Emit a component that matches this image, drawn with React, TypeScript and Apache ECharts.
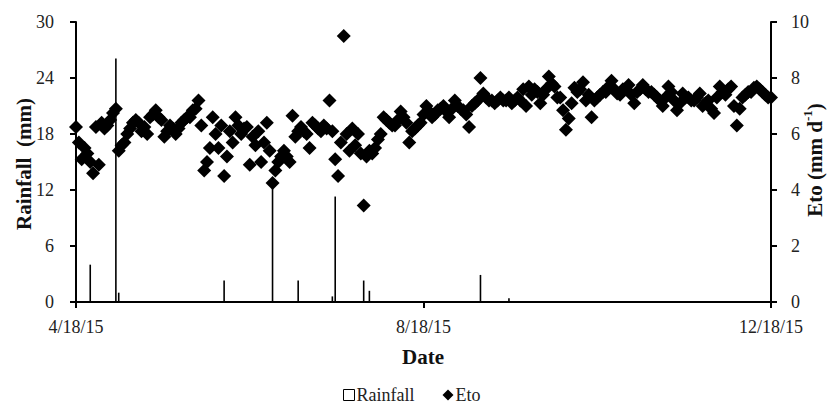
import React, { useEffect, useRef } from "react";
import * as echarts from "echarts";

// Daily series starting 4/18/2015 (index = days after 4/18/15)
const START = Date.UTC(2015, 3, 18);
const xTickDays = [0, 122, 244];

const rainDays = [5, 14, 15, 52, 69, 78, 90, 91, 101, 103, 142, 152];
const rainValues = [4.0, 26.1, 1.0, 2.3, 12.6, 2.3, 0.6, 11.3, 2.3, 1.2, 2.9, 0.4];

const etoValues = [
  6.25, 5.7, 5.1, 5.5, 5.3, 5.0, 4.6, 6.25, 4.9, 6.4,
  6.2, 6.3, 6.5, 6.75, 6.9, 5.4, 5.6, 5.7, 6.0, 6.2,
  6.4, 6.5, 6.4, 6.1, 6.25, 6.0, 6.6, 6.7, 6.85, 6.6,
  6.5, 5.9, 6.1, 6.3, 6.2, 6.0, 6.2, 6.4, 6.5, 6.6,
  6.6, 6.85, 6.9, 7.2, 6.3, 4.7, 5.0, 5.5, 6.6, 6.0,
  5.5, 6.3, 4.5, 5.2, 6.1, 5.7, 6.6, 6.3, 6.0, 6.2,
  6.25, 4.9, 5.9, 5.6, 6.1, 5.0, 5.7, 6.4, 5.4, 4.25,
  4.7, 5.0, 5.2, 5.4, 5.2, 5.0, 6.65, 5.9, 6.1, 6.25,
  6.1, 6.0, 5.5, 6.4, 6.3, 6.2, 6.1, 6.3, 6.2, 7.2,
  6.1, 5.1, 4.5, 5.7, 9.5, 6.0, 5.4, 6.2, 5.6, 6.0,
  5.3, 3.45, 5.2, 5.4, 5.3, 5.5, 5.8, 6.0, 6.6, 6.5,
  6.4, 6.3, 6.3, 6.5, 6.8, 6.6, 6.4, 5.7, 6.1, 6.2,
  6.3, 6.4, 6.7, 7.0, 6.8, 6.6, 6.7, 6.85, 6.9, 7.0,
  6.8, 6.6, 6.9, 7.2, 7.0, 6.9, 6.85, 6.7, 6.25, 7.0,
  7.1, 7.2, 8.0, 7.45, 7.3, 7.2, 7.2, 7.1, 7.2, 7.3,
  7.2, 7.2, 7.3, 7.1, 7.2, 7.3, 7.2, 7.6, 7.0, 7.7,
  7.4, 7.6, 7.5, 7.1, 7.4, 7.6, 8.05, 7.8, 7.7, 7.3,
  7.3, 6.85, 6.15, 6.55, 7.1, 7.65, 7.5, 7.6, 7.85, 7.2,
  7.4, 6.6, 7.2, 7.3, 7.4, 7.5, 7.5, 7.7, 7.9, 7.6,
  7.45, 7.4, 7.6, 7.6, 7.75, 7.4, 7.1, 7.5, 7.6, 7.75,
  7.6, 7.5, 7.5, 7.4, 7.3, 7.2, 7.0, 7.3, 7.7, 7.5,
  7.2, 6.85, 7.1, 7.45, 7.3, 7.3, 7.2, 7.2, 7.3, 7.45,
  7.0, 7.1, 7.2, 6.9, 6.75, 7.3, 7.7, 7.5, 7.4, 7.6,
  7.7, 7.0, 6.3, 6.9, 7.3, 7.4, 7.5, 7.5, 7.65, 7.7,
  7.6, 7.5, 7.4, 7.3, 7.3,
];

const rainTicks = [0, 6, 12, 18, 24, 30];
const etoTicks = [0, 2, 4, 6, 8, 10];

const FONT = "Liberation Serif";

function dayLabel(d: number): string {
  const dt = new Date(START + d * 86400000);
  return `${dt.getUTCMonth() + 1}/${dt.getUTCDate()}/${String(dt.getUTCFullYear()).slice(2)}`;
}

export default function App() {
  const ref = useRef<HTMLDivElement>(null);
  useEffect(() => {
    if (!ref.current) return;
    const chart = echarts.init(ref.current, undefined, { renderer: "svg" });
    const axisLine = { show: true, lineStyle: { color: "#000", width: 2 } };
    const tick = { show: true, length: 6, lineStyle: { color: "#000", width: 2 } };
    const labelStyle = { fontFamily: FONT, fontSize: 18, color: "#222" };
    const nameStyle = { fontFamily: FONT, fontSize: 21, fontWeight: "bold", fill: "#111" };
    chart.setOption({
      animation: false,
      backgroundColor: "#fff",
      grid: { left: 76, right: 67, top: 22, bottom: 102, containLabel: false },
      xAxis: {
        type: "value",
        min: xTickDays[0],
        max: xTickDays[xTickDays.length - 1],
        interval: xTickDays[1] - xTickDays[0],
        axisLine,
        axisTick: tick,
        splitLine: { show: false },
        axisLabel: { ...labelStyle, formatter: (v: number) => dayLabel(v), margin: 16 },
      },
      yAxis: [
        {
          type: "value",
          min: rainTicks[0],
          max: rainTicks[rainTicks.length - 1],
          interval: rainTicks[1] - rainTicks[0],
          position: "left",
          axisLine,
          axisTick: tick,
          splitLine: { show: false },
          axisLabel: { ...labelStyle, margin: 22 },
        },
        {
          type: "value",
          min: etoTicks[0],
          max: etoTicks[etoTicks.length - 1],
          interval: etoTicks[1] - etoTicks[0],
          position: "right",
          axisLine,
          axisTick: tick,
          splitLine: { show: false },
          axisLabel: { ...labelStyle, margin: 20 },
        },
      ],
      legend: {
        top: 381,
        left: 338,
        itemGap: 28,
        itemWidth: 11,
        itemHeight: 11,
        textStyle: { fontFamily: FONT, fontSize: 18, color: "#222", padding: [0, 0, 0, -3] },
        data: [
          { name: "Rainfall", icon: "rect", itemStyle: { color: "#fff", borderColor: "#000", borderWidth: 1 } },
          { name: "Eto", icon: "diamond", itemStyle: { color: "#000" } },
        ],
      },
      graphic: [
        {
          type: "text",
          x: 24,
          y: 164,
          rotation: Math.PI / 2,
          style: {
            ...nameStyle,
            text: "Rainfall  (mm)",
            align: "center",
            verticalAlign: "middle",
          },
        },
        {
          type: "text",
          x: 813,
          y: 160,
          rotation: Math.PI / 2,
          style: {
            text: "{a|Eto (mm d}{s|-1}{a|)}",
            align: "center",
            verticalAlign: "middle",
            rich: {
              a: { ...nameStyle, lineHeight: 24, verticalAlign: "bottom" },
              s: { fontFamily: FONT, fontSize: 13, fontWeight: "bold", fill: "#111", lineHeight: 24, verticalAlign: "top" },
            },
          },
        },
        {
          type: "text",
          x: 423,
          y: 357,
          style: {
            ...nameStyle,
            text: "Date",
            align: "center",
            verticalAlign: "middle",
          },
        },
      ],
      series: [
        {
          name: "Rainfall",
          type: "bar",
          yAxisIndex: 0,
          barWidth: 1.6,
          itemStyle: { color: "#000" },
          data: rainDays.map((d, i) => [d, rainValues[i]]),
        },
        {
          name: "Eto",
          type: "scatter",
          yAxisIndex: 1,
          symbol: "diamond",
          symbolSize: 14,
          itemStyle: { color: "#000", opacity: 1 },
          data: etoValues.map((v, i) => [i, v]),
        },
      ],
    });
    return () => chart.dispose();
  }, []);
  return (
    <div
      ref={ref}
      style={{ position: "fixed", left: 0, top: 0, width: 838, height: 404, background: "#fff" }}
    />
  );
}
